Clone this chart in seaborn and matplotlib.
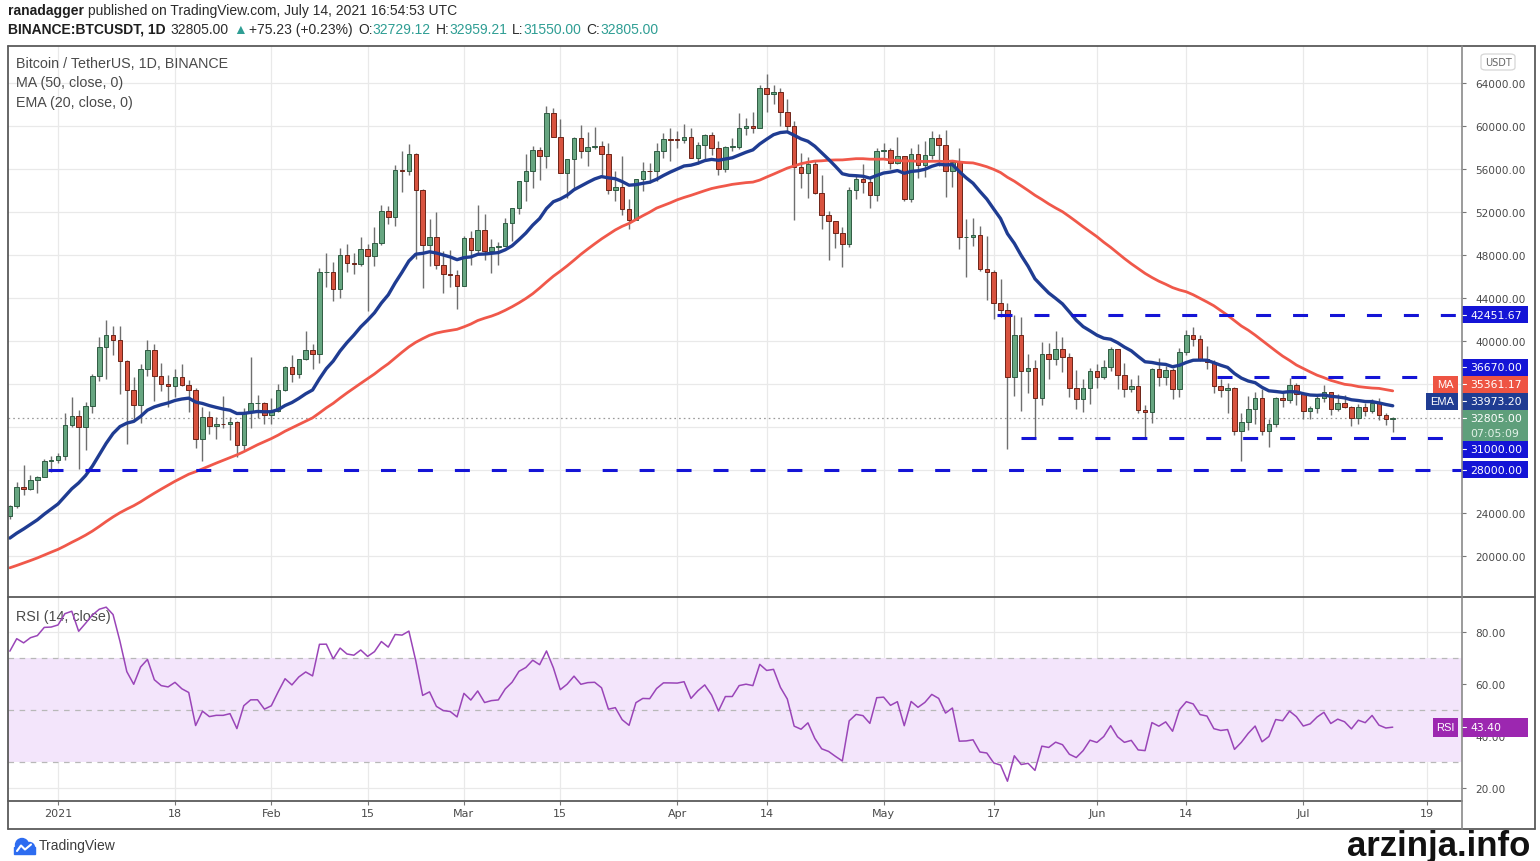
from __future__ import annotations

import matplotlib

matplotlib.use("Agg")

import matplotlib.pyplot as plt
import pandas as pd
import seaborn as sns
from matplotlib.patches import Circle, FancyBboxPatch, Rectangle
from matplotlib.transforms import IdentityTransform

W, H = 1540, 862

WARMUP_START = "2020-10-01"
CANDLE_START = "2020-12-25"

# closes before the visible window (needed for MA50 / EMA20 / RSI14)
warmup_close = [
    # Oct 2020
    10620, 10570, 10550, 10670, 10790, 10600, 10670, 10920, 11060, 11300, 11370,
    11540, 11430, 11430, 11500, 11320, 11360, 11480, 11750, 11910, 12820, 12980,
    12930, 13120, 13040, 13070, 13650, 13280, 13460, 13560, 13800,
    # Nov 2020
    13760, 13550, 14020, 14150, 15590, 15580, 14830, 15480, 15330, 15300, 15700,
    16290, 16330, 16070, 15960, 16720, 17660, 17800, 17820, 18680, 18710, 18420,
    18370, 19160, 18720, 17150, 17140, 17720, 18180, 19700,
    # Dec 1-24 2020
    18770, 19210, 19420, 18650, 19150, 19360, 19170, 18320, 18550, 18250, 18030,
    18800, 19170, 19270, 19430, 21340, 22800, 23100, 23850, 23480, 22730, 23830,
    23240, 23730,
]

# daily candles, Dec 25 2020 - Jul 14 2021 (open = previous close)
close = [
    24690, 26443, 26246, 27036, 27376, 28856, 28923,
    29331, 32178, 33000, 31988, 33949, 36769, 39432, 40582, 40088, 38150, 35404,
    34051, 37371, 39144, 36742, 35994, 35828, 36631, 35891, 35468, 30850, 32945,
    32078, 32259, 32254, 32467, 30366, 33364, 34252, 34262, 33092,
    33526, 35466, 37618, 36936, 38290, 39186, 38795, 46374, 46420, 44807, 47969,
    47287, 47153, 48577, 47911, 49133, 52119, 51552, 55906, 55841, 57408, 54087,
    48891, 49676, 47073, 46276, 46107, 45135,
    49587, 48440, 50349, 48374, 48751, 48882, 50971, 52375, 54884, 55851, 57773,
    57221, 61188, 58968, 55605, 56900, 58912, 57648, 58030, 58102, 57351, 54083,
    54340, 52303, 51293, 55025, 55817, 55777, 57635, 58746, 58740,
    58720, 58950, 57059, 58202, 59129, 57992, 56000, 58088, 58092, 59778, 60006,
    59860, 63575, 62959, 63159, 61334, 60006, 56150, 55633, 56425, 53787, 51690,
    51125, 50047, 49004, 54021, 55033, 54824, 53555, 57694,
    57800, 56578, 57170, 53200, 57436, 56393, 57314, 58862, 58240, 55816, 56670,
    49631, 49670, 49841, 46708, 46426, 43541, 42857, 36671, 40526, 37252, 37449,
    34655, 38750, 38325, 39241, 38529, 35663, 34605, 35641, 37254,
    36694, 37568, 39246, 36830, 35520, 35797, 33552, 33380, 37388, 36675, 37331,
    35546, 39020, 40516, 40144, 38349, 38092, 35820, 35484, 35600, 31608, 32509,
    33678, 34663, 31584, 32283, 34700, 34494, 35911, 35045,
    33504, 33787, 34668, 35287, 33690, 34220, 33862, 32875, 33815, 33502, 34259,
    33086, 32729, 32805,
]
high = [
    24789, 26867, 28422, 27500, 27410, 28996, 29300,
    29600, 33300, 34778, 33600, 34360, 36939, 40365, 41950, 41380, 41350, 38264,
    36628, 37850, 40100, 39747, 37950, 36852, 37405, 37850, 36415, 35600, 33826,
    33456, 32959, 34875, 32921, 32557, 33783, 38531, 34933, 34288,
    34717, 35984, 37662, 38708, 38310, 40955, 39700, 46794, 48142, 47310, 48678,
    48985, 48150, 49707, 49010, 50602, 52618, 52530, 56368, 57700, 58352, 57508,
    54183, 51374, 52041, 48370, 48424, 46638,
    49790, 50200, 52640, 51773, 49448, 49200, 51450, 52402, 54895, 57387, 58150,
    58058, 61844, 61683, 60633, 56938, 58981, 60129, 59468, 59880, 58589, 58430,
    55830, 57200, 53230, 55073, 56640, 56559, 58400, 59368, 59800,
    59490, 60200, 59791, 58506, 59253, 59474, 58650, 58153, 58894, 61217, 60790,
    61300, 63777, 64854, 63800, 63520, 62506, 60437, 57526, 57076, 56757, 55460,
    52131, 51166, 50567, 54356, 55460, 56428, 55196, 57963,
    58458, 57911, 58981, 57200, 57939, 58360, 58650, 59500, 59300, 59592, 56862,
    58000, 51367, 51483, 50700, 49795, 46643, 45799, 43546, 42451.67, 42200, 38829,
    38270, 39920, 39791, 40900, 40411, 38856, 37338, 36488, 37499,
    37894, 38225, 39476, 39289, 37925, 36480, 36800, 34068, 37534, 38400, 37680,
    37463, 39380, 41064, 41330, 40527, 39559, 38202, 36457, 36139, 35750, 33298,
    34881, 35298, 35500, 32730, 34749, 35297, 36600, 36100,
    35036, 33939, 34909, 35950, 35293, 35059, 35000, 33909, 34100, 34262, 34592,
    34679, 33340, 32959.21,
]
low = [
    23400, 24500, 25700, 26101, 25880, 27320, 27850,
    28624, 28946, 31963, 28130, 29900, 33288, 36300, 36500, 38720, 35111, 30420,
    32531, 32380, 36701, 34408, 35357, 33850, 34800, 35844, 33400, 30071, 28850,
    31390, 30900, 31900, 30837, 29241, 29842, 31915, 32825, 32270,
    32296, 33418, 35362, 36161, 36570, 38215, 37351, 37988, 45020, 43727, 43994,
    46400, 46202, 47014, 42800, 47003, 48947, 50901, 50710, 53863, 55477, 47600,
    44892, 47003, 46700, 44454, 45000, 43000,
    45115, 47047, 48100, 47500, 46300, 47070, 48882, 49274, 51846, 53005, 54269,
    55013, 56078, 58966, 55600, 53271, 54123, 57023, 56270, 57820, 55450, 53650,
    53000, 51700, 50427, 51283, 53966, 54691, 54900, 57020, 56769,
    57935, 58427, 57000, 56478, 56817, 57333, 55473, 55700, 57654, 57900, 59177,
    59386, 59805, 61301, 62020, 60000, 59580, 51300, 54221, 53329, 53695, 50400,
    47500, 48676, 46930, 48753, 53222, 53813, 52330, 53013,
    57052, 56035, 56435, 53046, 52900, 55200, 55241, 56900, 56235, 53400, 54370,
    48600, 46000, 48870, 46555, 43825, 42001, 42250, 30000, 34850, 33488, 35200,
    31111, 34031, 36420, 37800, 37134, 34779, 33632, 33379, 34153,
    35666, 36419, 37170, 35555, 34800, 35258, 33300, 31000, 32396, 35782, 35936,
    34600, 34757, 38730, 39506, 38116, 37365, 35129, 34803, 33336, 31251, 28805,
    31683, 32286, 31275, 30151, 31973, 33862, 34225, 34017,
    32711, 32699, 33326, 34357, 33125, 33532, 33780, 32077, 32261, 33004, 33332,
    32658, 32202, 31550,
]

# horizontal support / resistance levels drawn on the chart
level_values = [42451.67, 36670.00, 31000.00, 28000.00]
level_starts = ["2021-05-17 12:00", "2021-06-18 12:00", "2021-05-21", "2020-12-30 12:00"]
level_ends = ["2021-07-25", "2021-07-18", "2021-07-22", "2021-07-25"]

last_price = 32805.00
ma_label = 35361.17
ema_label = 33973.20
rsi_label = 43.40
countdown = "07:05:09"

price_ticks = [20000, 24000, 28000, 32000, 36000, 40000, 44000, 48000, 52000, 56000, 60000, 64000]
hidden_price_ticks = [28000, 32000, 36000]  # covered by value boxes on the scale
rsi_ticks = [20, 40, 60, 80]
time_ticks = ["2021-01-01", "2021-01-18", "2021-02-01", "2021-02-15", "2021-03-01", "2021-03-15",
              "2021-04-01", "2021-04-14", "2021-05-01", "2021-05-17", "2021-06-01", "2021-06-14",
              "2021-07-01", "2021-07-19"]
time_labels = ["2021", "18", "Feb", "15", "Mar", "15", "Apr", "14", "May", "17", "Jun", "14", "Jul", "19"]

UP, UP_EDGE = "#67a681", "#2f5c43"
DOWN, DOWN_EDGE = "#d8533f", "#6e2418"
WICK = "#6f6f6f"
MA_RED = "#f0584a"
EMA_BLUE = "#1f3c92"
LEVEL_BLUE = "#1414d6"
RSI_PURPLE = "#9a45b8"
TEAL = "#2f9e94"
GRID = "#e9e9e9"
TXT = "#4a4a4a"
NARROW = ["Liberation Sans Narrow", "Liberation Sans", "DejaVu Sans"]
NUM = ["DejaVu Sans"]
BOX_H = 17


def build_frame() -> pd.DataFrame:
    all_close = pd.Series(warmup_close + close, dtype=float,
                          index=pd.date_range(WARMUP_START, periods=len(warmup_close) + len(close), freq="D"))
    ma = all_close.rolling(50).mean()
    ema = all_close.ewm(span=20, adjust=False).mean()
    diff = all_close.diff().fillna(0.0)
    gain = diff.clip(lower=0).ewm(alpha=1 / 14, adjust=False).mean()
    loss = (-diff.clip(upper=0)).ewm(alpha=1 / 14, adjust=False).mean()
    rsi = 100 - 100 / (1 + gain / loss)
    opens = all_close.shift(1)
    data = pd.DataFrame({"open": opens, "close": all_close, "ma": ma, "ema": ema, "rsi": rsi})
    data = data.loc[CANDLE_START:].copy()
    data["high"] = high
    data["low"] = low
    data["date"] = data.index
    return data


def fx(px: float) -> float:
    return px / W


def fy(py: float) -> float:
    return 1 - py / H


def chain_text(fig, x_px, y_px, pieces, size, family, target_width):
    """Draw coloured pieces side by side, scaled so the whole line spans target_width px."""
    renderer = fig.canvas.get_renderer()
    for attempt in range(2):
        x = x_px
        drawn = []
        for text, color, weight, gap in pieces:
            t = fig.text(fx(x), fy(y_px), text, color=color, fontweight=weight, fontsize=size,
                         family=family, va="center", ha="left")
            drawn.append(t)
            x += t.get_window_extent(renderer=renderer).width + gap * size / 10
        if attempt == 0:
            for t in drawn:
                t.remove()
            size = size * target_width / (x - x_px)


def value_box(fig, top, color, text, x0=1462, x1=1528, h=BOX_H, sub=None):
    height = h if sub is None else h + 14
    fig.add_artist(Rectangle((fx(x0), fy(top + height)), (x1 - x0) / W, height / H,
                             transform=fig.transFigure, facecolor=color, edgecolor="none", zorder=6))
    yc = top + h / 2
    fig.add_artist(plt.Line2D([fx(x0), fx(x0 + 4)], [fy(yc), fy(yc)], transform=fig.transFigure,
                              color="white", lw=0.8, zorder=7))
    fig.text(fx(x0 + 8), fy(yc), text, color="white", fontsize=7.8, family=NUM,
             va="center", ha="left", zorder=7)
    if sub is not None:
        fig.text(fx(x0 + 8), fy(yc + 15), sub, color="#e3f2e8", fontsize=7.8, family=NUM,
                 va="center", ha="left", zorder=7)
    return yc


def tag_box(fig, yc, x0, x1, color, text, h=BOX_H):
    fig.add_artist(Rectangle((fx(x0), fy(yc + h / 2)), (x1 - x0) / W, h / H,
                             transform=fig.transFigure, facecolor=color, edgecolor="none", zorder=6))
    fig.text(fx((x0 + x1) / 2), fy(yc), text, color="white", fontsize=8, family=NARROW,
             va="center", ha="center", zorder=7)


def stack_labels(ax, anchor, others):
    """TradingView-style scale labels: keep the anchor in place, push the others apart."""
    def py(v):
        return H - ax.transData.transform((0, v))[1]

    anchor_top = py(anchor["value"]) - BOX_H / 2
    anchor_bottom = anchor_top + BOX_H + (14 if anchor.get("sub") else 0)
    placed = [(anchor_top, anchor)]
    above = sorted([o for o in others if o["value"] > anchor["value"]], key=lambda o: o["value"])
    below = sorted([o for o in others if o["value"] < anchor["value"]], key=lambda o: -o["value"])
    limit = anchor_top
    for o in above:
        bottom = min(py(o["value"]) + BOX_H / 2, limit)
        placed.append((bottom - BOX_H, o))
        limit = bottom - BOX_H
    limit = anchor_bottom
    for o in below:
        top = max(py(o["value"]) - BOX_H / 2, limit)
        placed.append((top, o))
        limit = top + BOX_H
    return placed


def style_axis(ax):
    for side in ("top", "bottom", "left", "right"):
        ax.spines[side].set_visible(False)
    ax.yaxis.tick_right()
    ax.tick_params(axis="y", which="both", length=3, width=0.8, color="#777777", pad=6.5,
                   labelsize=7.6, labelcolor=TXT)
    ax.grid(False)


def main() -> int:
    sns.set_theme(style="white")
    plt.rcParams["font.family"] = NUM
    plt.rcParams["lines.scale_dashes"] = False

    data = build_frame()
    fig = plt.figure(figsize=(W / 100, H / 100), dpi=100)
    fig.patch.set_facecolor("white")

    ax = fig.add_axes([fx(8), fy(598), (1462 - 8) / W, (598 - 47) / H])
    rax = fig.add_axes([fx(8), fy(802), (1462 - 8) / W, (802 - 598) / H], sharex=ax)

    x_left = pd.Timestamp("2021-01-01") - pd.Timedelta(days=7.27)
    x_right = pd.Timestamp("2021-01-01") + pd.Timedelta(days=204.07)
    tick_dates = pd.to_datetime(time_ticks)

    # ----- price pane -----
    style_axis(ax)
    ax.set_xlim(x_left, x_right)
    ax.set_ylim(16186, 67442)
    ax.set_yticks(price_ticks)
    ax.set_yticklabels(["" if v in hidden_price_ticks else f"{v:.2f}" for v in price_ticks])
    for v in price_ticks:
        ax.axhline(v, color=GRID, lw=0.9, zorder=0)
    for d in tick_dates:
        ax.axvline(d, color=GRID, lw=0.9, zorder=0)
    ax.tick_params(axis="x", which="both", length=0, labelbottom=False)

    ax.axhline(last_price, color="#9a9a9a", lw=0.9, ls=(0, (1.2, 2.2)), zorder=1)

    up = data["close"] >= data["open"]
    ax.vlines(data["date"], data["low"], data["high"], color=WICK, lw=1.0, zorder=2)
    for mask, face, edge in ((up, UP, UP_EDGE), (~up, DOWN, DOWN_EDGE)):
        sub = data[mask]
        ax.bar(sub["date"], (sub["close"] - sub["open"]).abs().clip(lower=25),
               bottom=sub[["open", "close"]].min(axis=1), width=0.66,
               color=face, edgecolor=edge, linewidth=0.7, zorder=3)

    sns.lineplot(data=data, x="date", y="ma", ax=ax, color=MA_RED, linewidth=2.0, zorder=4)
    sns.lineplot(data=data, x="date", y="ema", ax=ax, color=EMA_BLUE, linewidth=2.4, zorder=5)

    for value, start, end in zip(level_values, level_starts, level_ends):
        ax.hlines(value, pd.Timestamp(start), pd.Timestamp(end), color=LEVEL_BLUE, lw=2.2,
                  linestyles=[(0, (10.8, 15.8))], zorder=6)
    ax.set_xlabel("")
    ax.set_ylabel("")

    legend_lines = ["Bitcoin / TetherUS, 1D, BINANCE", "MA (50, close, 0)", "EMA (20, close, 0)"]
    for i, line in enumerate(legend_lines):
        ax.text(8 / 1454, 1 - (17 + 19.5 * i) / 551, line, transform=ax.transAxes,
                fontsize=10.3, family=NARROW, color=TXT, va="center", ha="left")

    # ----- RSI pane -----
    style_axis(rax)
    rax.set_ylim(15, 93.46)
    rax.set_yticks(rsi_ticks)
    rax.set_yticklabels([f"{v:.2f}" for v in rsi_ticks])
    for v in rsi_ticks:
        rax.axhline(v, color=GRID, lw=0.9, zorder=0)
    for d in tick_dates:
        rax.axvline(d, color=GRID, lw=0.9, zorder=0)
    rax.axhspan(30, 70, color="#f3e5fb", zorder=0.5, lw=0)
    for v in (30, 50, 70):
        rax.axhline(v, color="#b8b8b8", lw=0.9, ls=(0, (4, 4)), zorder=1)
    sns.lineplot(data=data, x="date", y="rsi", ax=rax, color=RSI_PURPLE, linewidth=1.1, zorder=3)
    rax.text(8 / 1454, 1 - 19 / 204, "RSI (14, close)", transform=rax.transAxes,
             fontsize=10.3, family=NARROW, color=TXT, va="center", ha="left", zorder=2)
    rax.set_xticks(tick_dates)
    rax.set_xticklabels(time_labels)
    rax.tick_params(axis="x", which="both", length=3, width=0.8, color="#777777", pad=2,
                    labelsize=8, labelcolor=TXT, bottom=True)
    rax.set_xlim(x_left, x_right)
    rax.set_xlabel("")
    rax.set_ylabel("")

    # ----- frame and separators -----
    frame = dict(transform=fig.transFigure, color="#5a5a5a", lw=1.3, zorder=8)
    fig.add_artist(plt.Line2D([fx(8), fx(1535)], [fy(47), fy(47)], **frame))
    fig.add_artist(plt.Line2D([fx(8), fx(1535)], [fy(830), fy(830)], **frame))
    fig.add_artist(plt.Line2D([fx(8), fx(8)], [fy(47), fy(830)], **frame))
    fig.add_artist(plt.Line2D([fx(1535), fx(1535)], [fy(47), fy(830)], **frame))
    fig.add_artist(plt.Line2D([fx(8), fx(1535)], [fy(598), fy(598)], **frame))
    fig.add_artist(plt.Line2D([fx(8), fx(1462)], [fy(802), fy(802)], **frame))
    fig.add_artist(plt.Line2D([fx(1462), fx(1462)], [fy(47), fy(830)],
                              transform=fig.transFigure, color="#8a8a8a", lw=1.2, zorder=8))

    # USDT badge
    fig.add_artist(FancyBboxPatch((fx(1481), fy(71)), 34 / W, 16 / H, boxstyle="round,pad=0,rounding_size=0.003",
                                  transform=fig.transFigure, facecolor="white", edgecolor="#d6d6d6", lw=0.9, zorder=6))
    fig.text(fx(1498), fy(63), "USDT", fontsize=7, color="#666666", family=NUM, ha="center", va="center", zorder=7)

    # ----- right-scale value boxes -----
    anchor = {"value": last_price, "color": "#5f9f7b", "sub": countdown}
    others = [
        {"value": level_values[0], "color": LEVEL_BLUE},
        {"value": level_values[1], "color": LEVEL_BLUE},
        {"value": ma_label, "color": "#ee5443", "tag": ("MA", 1433, 1458)},
        {"value": ema_label, "color": EMA_BLUE, "tag": ("EMA", 1426, 1458)},
        {"value": level_values[2], "color": LEVEL_BLUE},
        {"value": level_values[3], "color": LEVEL_BLUE},
    ]
    for top, box in stack_labels(ax, anchor, others):
        yc = value_box(fig, top, box["color"], f"{box['value']:.2f}", sub=box.get("sub"))
        if "tag" in box:
            name, x0, x1 = box["tag"]
            tag_box(fig, yc, x0, x1, box["color"], name)
    rsi_top = H - rax.transData.transform((0, rsi_label))[1] - 9.5
    y_rsi = value_box(fig, rsi_top, "#9c27b0", f"{rsi_label:.2f}", h=19)
    tag_box(fig, y_rsi, 1433, 1458, "#9c27b0", "RSI", h=19)

    # ----- header -----
    chain_text(fig, 8, 11, [("ranadagger", "#1e1e1e", "bold", 4),
                            ("published on TradingView.com, July 14, 2021 16:54:53 UTC", "#2b2b2b", "normal", 0)],
               11, NARROW, 447)
    chain_text(fig, 8, 30, [("BINANCE:BTCUSDT, 1D", "#1e1e1e", "bold", 5),
                            ("32805.00", "#2b2b2b", "normal", 4),
                            ("\u25b2", TEAL, "normal", 3),
                            ("+75.23 (+0.23%)", "#2b2b2b", "normal", 5),
                            ("O:", "#2b2b2b", "normal", 0), ("32729.12", TEAL, "normal", 5),
                            ("H:", "#2b2b2b", "normal", 0), ("32959.21", TEAL, "normal", 5),
                            ("L:", "#2b2b2b", "normal", 0), ("31550.00", TEAL, "normal", 5),
                            ("C:", "#2b2b2b", "normal", 0), ("32805.00", TEAL, "normal", 0)],
               11, NARROW, 647)

    # ----- footer -----
    ident = IdentityTransform()
    tv_blue = "#2d6cf0"
    fig.add_artist(Circle((22, H - 846), 6.5, transform=ident, color=tv_blue, zorder=6))
    fig.add_artist(Circle((29.5, H - 848.5), 5.0, transform=ident, color=tv_blue, zorder=6))
    fig.add_artist(Rectangle((14, H - 855), 21, 7, transform=ident, color=tv_blue, zorder=6))
    fig.add_artist(plt.Line2D([17, 21, 25, 31], [H - 852, H - 846.5, H - 850.5, H - 845.5],
                              transform=ident, color="white", lw=1.5, zorder=7))
    fig.text(fx(39), fy(846), "TradingView", fontsize=10, color="#3d3d3d", family=["Liberation Sans"],
             va="center", ha="left")
    fig.text(fx(1530), fy(847), "arzinja.info", fontsize=25, fontweight="bold", color="#111111",
             family=["Liberation Sans"], va="center", ha="right")

    fig.savefig("out.png", dpi=100)
    plt.close(fig)
    return 0


if __name__ == "__main__":
    raise SystemExit(main())
